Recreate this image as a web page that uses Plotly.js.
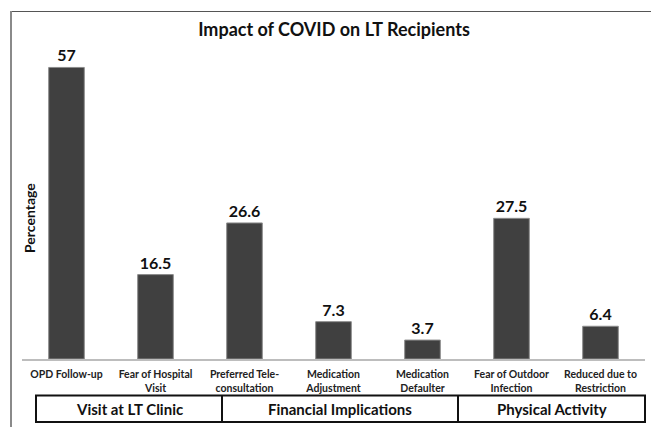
<!DOCTYPE html>
<html>
<head>
<meta charset="utf-8">
<script src="https://cdn.plot.ly/plotly-3.0.1.min.js"></script>
<style>html,body{margin:0;padding:0;background:#fff;}#chart{width:651px;height:427px;}</style>
</head>
<body>
<div id="chart"></div>
<script>
// ---- data ----
var categories = [
  'OPD Follow-up',
  'Fear of Hospital<br>Visit',
  'Preferred Tele-<br>consultation',
  'Medication<br>Adjustment',
  'Medication<br>Defaulter',
  'Fear of Outdoor<br>Infection',
  'Reduced due to<br>Restriction'
];
var values = [57, 16.5, 26.6, 7.3, 3.7, 27.5, 6.4];
var valueLabels = ['57', '16.5', '26.6', '7.3', '3.7', '27.5', '6.4'];
var groupLabels = ['Visit at LT Clinic', 'Financial Implications', 'Physical Activity'];

// ---- layout helpers (pixel geometry) ----
var W = 651, H = 427;
var mL = 22, mR = 6, mT = 50, mB = 68;
var pw = W - mL - mR, ph = H - mT - mB;
function px(x) { return (x - mL) / pw; }
function py(y) { return (H - mB - y) / ph; }

var font = 'Lato, "Open Sans", sans-serif';

var trace = {
  type: 'bar',
  x: categories.map(function (c, i) { return i; }),
  y: values,
  text: valueLabels,
  textposition: 'outside',
  texttemplate: '<b>%{text}</b>',
  textfont: {family: font, size: 16, color: '#111'},
  cliponaxis: false,
  marker: {color: '#404040', line: {color: '#8c8c8c', width: 1}},
  hoverinfo: 'none'
};

// group box boundaries in pixel x
var boxX = [36, 222, 458, 645];
var boxTop = 395.5, boxBot = 422;

var shapes = [
  // outer frame lines
  {type: 'line', xref: 'paper', yref: 'paper', x0: px(11), x1: px(651), y0: py(11.5), y1: py(11.5),
   line: {color: '#555', width: 1.2}},
  {type: 'line', xref: 'paper', yref: 'paper', x0: px(11), x1: px(11), y0: py(11), y1: py(427),
   line: {color: '#8a8a8a', width: 2}},
  // group box
  {type: 'rect', xref: 'paper', yref: 'paper', x0: px(boxX[0]), x1: px(boxX[3]), y0: py(boxTop), y1: py(boxBot),
   line: {color: '#111', width: 2}},
  {type: 'line', xref: 'paper', yref: 'paper', x0: px(boxX[1]), x1: px(boxX[1]), y0: py(boxTop), y1: py(boxBot),
   line: {color: '#111', width: 2}},
  {type: 'line', xref: 'paper', yref: 'paper', x0: px(boxX[2]), x1: px(boxX[2]), y0: py(boxTop), y1: py(boxBot),
   line: {color: '#111', width: 2}}
];

var annotations = groupLabels.map(function (g, i) {
  return {
    xref: 'paper', yref: 'paper',
    x: px((boxX[i] + boxX[i + 1]) / 2), y: py((boxTop + boxBot) / 2),
    text: '<b>' + g + '</b>', showarrow: false,
    xanchor: 'center', yanchor: 'middle',
    font: {family: font, size: 15, color: '#111'}
  };
});
annotations.push({
  xref: 'paper', yref: 'paper', x: px(29), y: py(218),
  text: '<b>Percentage</b>', textangle: -90, showarrow: false,
  xanchor: 'center', yanchor: 'middle',
  font: {family: font, size: 14, color: '#111'}
});

var layout = {
  width: W, height: H,
  margin: {l: mL, r: mR, t: mT, b: mB, pad: 0},
  paper_bgcolor: '#fff', plot_bgcolor: '#fff',
  title: {text: '<b>Impact of COVID on LT Recipients</b>', xref: 'container', x: 334 / W, xanchor: 'center',
          yref: 'container', y: 1 - 30 / H, yanchor: 'middle',
          font: {family: font, size: 18, color: '#111'}},
  showlegend: false,
  bargap: 0.6,
  xaxis: {
    type: 'linear', range: [-0.5, 6.5],
    tickmode: 'array', tickvals: categories.map(function (c, i) { return i; }),
    ticktext: categories.map(function (c) { return '<b>' + c + '</b>'; }),
    tickfont: {family: font, size: 10.5, color: '#222'},
    showline: true, linecolor: '#bdbdbd', linewidth: 1.5,
    ticks: '', showgrid: false, zeroline: false, ticklabelstandoff: 5
  },
  yaxis: {range: [0, ph / 5.115], visible: false, showgrid: false, zeroline: false},
  shapes: shapes,
  annotations: annotations
};

Plotly.newPlot('chart', [trace], layout, {staticPlot: true, displayModeBar: false});
</script>
</body>
</html>
